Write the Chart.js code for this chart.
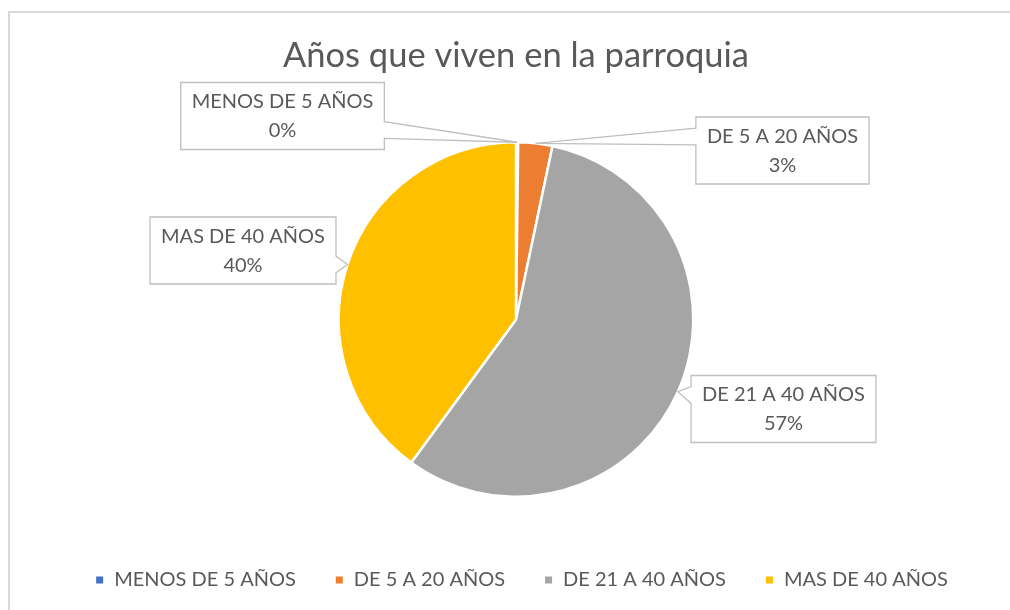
<!DOCTYPE html>
<html>
<head>
<meta charset="utf-8">
<script src="https://cdn.jsdelivr.net/npm/chart.js@4"></script>
<style>
html,body{margin:0;padding:0;background:#fff;}
#wrap{width:1010px;height:610px;position:relative;}
</style>
</head>
<body>
<div id="wrap"><canvas id="c" width="1010" height="610"></canvas></div>
<script>
// ---- data ----
const title = 'Años que viven en la parroquia';
const categories = ['MENOS DE 5 AÑOS', 'DE 5 A 20 AÑOS', 'DE 21 A 40 AÑOS', 'MAS DE 40 AÑOS'];
const values = [0.2, 3.1, 56.7, 39.9];

// ---- styles ----
const colors = ['#4472C4', '#ED7D31', '#A5A5A5', '#FFC000'];
const textColor = '#595959';
const fontFamily = 'Lato, "Open Sans", sans-serif';
const titleFont = '34.5px ' + fontFamily;
const labelFont = '20px ' + fontFamily;
const legendFont = '20px ' + fontFamily;
// callout box centres relative to pie centre
const calloutOffsets = [
  {dx: -233.5, dy: -203.5},
  {dx: 266.5, dy: -169},
  {dx: 267.5, dy: 89.5},
  {dx: -273, dy: -69}
];

const decorPlugin = {
  id: 'decor',
  beforeDraw(chart) {
    const ctx = chart.ctx;
    ctx.save();
    ctx.fillStyle = '#fff';
    ctx.fillRect(0, 0, chart.width, chart.height);
    ctx.strokeStyle = '#D9D9D9';
    ctx.lineWidth = 2;
    ctx.strokeRect(9, 12, 1100, 700);
    // title
    ctx.fillStyle = textColor;
    ctx.font = titleFont;
    ctx.textAlign = 'center';
    ctx.textBaseline = 'alphabetic';
    ctx.fillText(title, 516, 67);
    // legend
    ctx.font = legendFont;
    ctx.textBaseline = 'middle';
    ctx.textAlign = 'left';
    const box = 7, gap = 11, itemGap = 40;
    const widths = categories.map(c => ctx.measureText(c).width);
    const total = widths.reduce((a, w) => a + box + gap + w, 0) + itemGap * (categories.length - 1);
    let x = 522 - total / 2;
    const ly = 580;
    categories.forEach((c, i) => {
      ctx.fillStyle = colors[i];
      ctx.fillRect(x, ly - box / 2, box, box);
      ctx.fillStyle = textColor;
      ctx.fillText(c, x + box + gap, ly);
      x += box + gap + widths[i] + itemGap;
    });
    ctx.restore();
  },
  afterDatasetsDraw(chart) {
    const ctx = chart.ctx;
    const meta = chart.getDatasetMeta(0);
    const sum = values.reduce((a, b) => a + b, 0);
    ctx.save();
    ctx.font = labelFont;
    meta.data.forEach((arc, i) => {
      const p = arc.getProps(['x', 'y', 'startAngle', 'endAngle', 'outerRadius'], true);
      const mid = (p.startAngle + p.endAngle) / 2;
      const tx = p.x + Math.cos(mid) * p.outerRadius;
      const ty = p.y + Math.sin(mid) * p.outerRadius;
      const pct = Math.round(values[i] / sum * 100) + '%';
      const w = Math.max(ctx.measureText(categories[i]).width, ctx.measureText(pct).width) + 22;
      const h = 67;
      const cx = p.x + calloutOffsets[i].dx, cy = p.y + calloutOffsets[i].dy;
      const l = cx - w / 2, t = cy - h / 2, r = l + w, b = t + h;
      const dxPos = tx - cx, dyPos = ty - cy;
      const dq = dxPos * h / w;
      const horiz = Math.abs(dyPos) <= Math.abs(dq);
      const inside = tx > l && tx < r && ty > t && ty < b;
      const y1 = t + h * (dyPos > 0 ? 7 : 2) / 12, y2 = t + h * (dyPos > 0 ? 10 : 5) / 12;
      const x1 = l + w * (dxPos > 0 ? 7 : 2) / 12, x2 = l + w * (dxPos > 0 ? 10 : 5) / 12;
      ctx.beginPath();
      ctx.moveTo(l, t);
      if (!inside && !horiz && dyPos < 0) { ctx.lineTo(x1, t); ctx.lineTo(tx, ty); ctx.lineTo(x2, t); }
      ctx.lineTo(r, t);
      if (!inside && horiz && dxPos > 0) { ctx.lineTo(r, y1); ctx.lineTo(tx, ty); ctx.lineTo(r, y2); }
      ctx.lineTo(r, b);
      if (!inside && !horiz && dyPos > 0) { ctx.lineTo(x2, b); ctx.lineTo(tx, ty); ctx.lineTo(x1, b); }
      ctx.lineTo(l, b);
      if (!inside && horiz && dxPos < 0) { ctx.lineTo(l, y2); ctx.lineTo(tx, ty); ctx.lineTo(l, y1); }
      ctx.closePath();
      ctx.fillStyle = '#fff';
      ctx.fill();
      ctx.strokeStyle = '#BFBFBF';
      ctx.lineWidth = 1.3;
      ctx.stroke();
      ctx.fillStyle = textColor;
      ctx.textAlign = 'center';
      ctx.textBaseline = 'middle';
      ctx.fillText(categories[i], cx, cy - 14);
      ctx.fillText(pct, cx, cy + 15);
    });
    ctx.restore();
  }
};

new Chart(document.getElementById('c'), {
  type: 'pie',
  data: {
    labels: categories,
    datasets: [{
      data: values,
      backgroundColor: colors,
      borderColor: '#ffffff',
      borderWidth: 2.5,
      hoverOffset: 0
    }]
  },
  options: {
    responsive: false,
    animation: false,
    layout: {padding: {top: 141, bottom: 112, left: 22, right: 0}},
    plugins: {
      legend: {display: false},
      title: {display: false},
      tooltip: {enabled: false}
    }
  },
  plugins: [decorPlugin]
});
</script>
</body>
</html>
